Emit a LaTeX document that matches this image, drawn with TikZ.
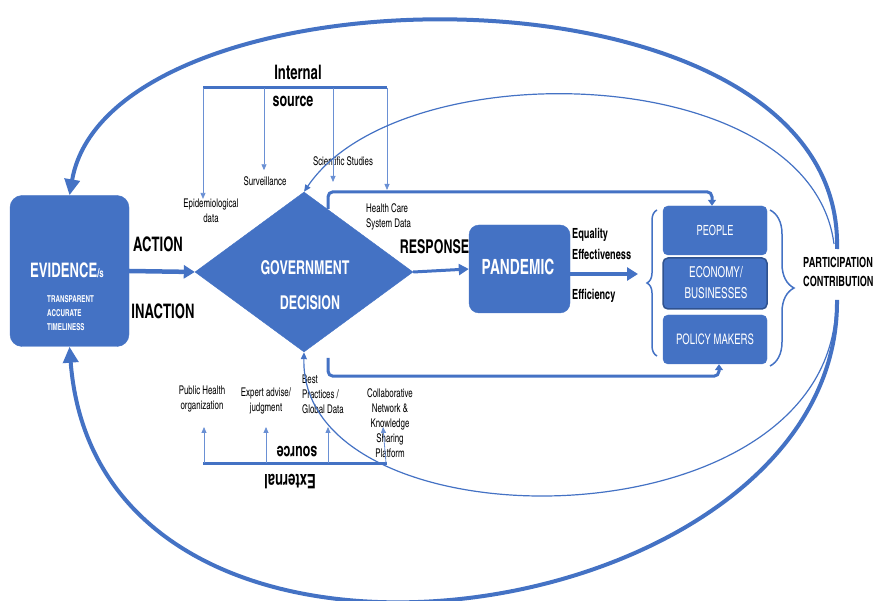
\documentclass[tikz,border=0pt]{standalone}
\usepackage{fontspec}
\setmainfont{texgyreheroscn}[Extension=.otf, UprightFont=*-regular, BoldFont=*-bold, FakeStretch=0.8]
\usetikzlibrary{arrows.meta,shapes.geometric,decorations.pathreplacing,calc}
\definecolor{ob}{HTML}{4472C4}
\definecolor{obd}{HTML}{2F528F}
\definecolor{obl}{HTML}{6A90D4}
\newcommand{\fsz}[2]{\fontsize{#1}{#2}\selectfont}
\begin{document}
\begin{tikzpicture}[x=1pt,y=-1pt,
  box/.style={draw=ob, fill=ob, inner sep=0pt},
  wtxt/.style={text=white, inner sep=0pt},
  lbl/.style={font=\fsz{12}{15}, inner sep=0pt, align=center},
  bigarc/.style={draw=ob, line width=4pt, -{Triangle[length=16pt,width=15pt]}},
  thinarc/.style={draw=ob, line width=1.2pt, -{Triangle[length=7pt,width=6pt]}},
  conn/.style={draw=ob, line width=3pt, rounded corners=5pt, -{Triangle[length=6pt,width=8pt]}},
  srcbar/.style={draw=ob, line width=3pt},
  feed/.style={draw=obl, line width=0.8pt, -{Triangle[length=6pt,width=5pt]}},
  brc/.style={draw=ob, line width=1.5pt, decorate},
]
\useasboundingbox (0,0) rectangle (873,601);
\clip (0,0) rectangle (873,601);

% main nodes
\node[box, rounded corners=12pt, minimum width=119pt, minimum height=151pt] (evid) at (69.5,271) {};
\node[diamond, fill=ob, draw=ob, minimum width=218pt, minimum height=160pt, inner sep=0pt] (gov) at (304,272) {};
\node[box, rounded corners=10pt, minimum width=101pt, minimum height=88pt] (pand) at (519.5,269) {};
\node[box, rounded corners=5pt, minimum width=104pt, minimum height=49pt] (people) at (715,230.5) {};
\node[box, draw=obd, line width=1.5pt, rounded corners=5pt, minimum width=104pt, minimum height=51pt] (econ) at (715,283.5) {};
\node[box, rounded corners=5pt, minimum width=104pt, minimum height=49pt] (policy) at (715,339.5) {};

% texts in shapes
\node[wtxt, font=\bfseries\fsz{20}{22}] (evidt) at (67,270) {EVIDENCE\fsz{12}{12}/s};
\node[wtxt, font=\bfseries\fsz{9.5}{14}, align=left, anchor=west] (evidq) at (47,313) {TRANSPARENT\\ACCURATE\\TIMELINESS};
\node[wtxt, font=\bfseries\fsz{19}{20}] (govt1) at (305,268) {GOVERNMENT};
\node[wtxt, font=\bfseries\fsz{19}{20}] (govt2) at (310,303) {DECISION};
\node[wtxt, font=\bfseries\fsz{21}{22}] (pandt) at (518,267) {PANDEMIC};
\node[wtxt, font=\fsz{14}{15}] (peoplet) at (715,230) {PEOPLE};
\node[wtxt, font=\fsz{15}{21}, align=center] (econt) at (716,283) {ECONOMY/\\BUSINESSES};
\node[wtxt, font=\fsz{14.5}{15}] (policyt) at (715,339) {POLICY MAKERS};

% black labels
\node[inner sep=0pt, font=\bfseries\fsz{20}{21}] (act) at (158,244) {ACTION};
\node[inner sep=0pt, font=\bfseries\fsz{20}{21}] (inact) at (163,311) {INACTION};
\node[inner sep=0pt, font=\bfseries\fsz{19}{20}] (resp) at (434.5,247) {RESPONSE};
\node[inner sep=0pt, font=\bfseries\fsz{14}{21}, align=left, anchor=west] (eq) at (572,243.5) {Equality\\Effectiveness};
\node[inner sep=0pt, font=\bfseries\fsz{14}{15}, anchor=west] (eff) at (572,296) {Efficiency};
\node[inner sep=0pt, font=\bfseries\fsz{14}{19}, align=left, anchor=west] (part) at (803,272) {PARTICIPATION\\CONTRIBUTION};

% internal source
\node[inner sep=0pt, font=\bfseries\fsz{20}{21}] (intl) at (298,72) {Internal};
\node[inner sep=0pt, font=\bfseries\fsz{19}{20}] (isrc) at (293,101) {source};
\coordinate (ib1) at (203,88);
\coordinate (ib2) at (264,88);
\coordinate (ib3) at (333,88);
\coordinate (ib4) at (387,88);
\draw[srcbar] (ib1) -- (ib4);
\node[lbl] (epid) at (211,211) {Epidemiological\\data};
\node[lbl] (surv) at (265,181) {Surveillance};
\node[lbl] (sci) at (343,161) {Scientific Studies};
\node[lbl, align=left, anchor=west] (hcs) at (366,216.5) {Health Care\\System Data};
\coordinate (ie3) at (333,182);
\coordinate (ie4) at (387,190);
\draw[feed] (ib1) -- (ib1 |- epid.north);
\draw[feed, shorten >=6pt] (ib2) -- (ib2 |- surv.north);
\draw[feed] (ib3) -- (ie3);
\draw[feed] (ib4) -- (ie4);

% external source
\node[inner sep=0pt, font=\bfseries\fsz{19}{20}, rotate=180] (esrc) at (297,452) {source};
\node[inner sep=0pt, font=\bfseries\fsz{20}{21}, rotate=180] (extl) at (290,482) {External};
\coordinate (eb1) at (204,463);
\coordinate (eb2) at (266,463);
\coordinate (eb3) at (328,463);
\coordinate (eb4) at (386,463);
\draw[srcbar] ($(eb1)+(-1,0)$) -- ($(eb4)+(1,0)$);
\node[lbl] (pho) at (202,399.5) {Public Health\\organization};
\node[lbl] (exp) at (266,400.5) {Expert advise/\\judgment};
\node[lbl, align=left, anchor=west] (best) at (302,394.5) {Best\\Practices /\\Global Data};
\node[lbl] (collab) at (390,423) {Collaborative\\Network \&\\Knowledge\\Sharing\\Platform};
\coordinate (ee1) at (204,427);
\coordinate (ee2) at (266,427);
\coordinate (ee3) at (328,427);
\coordinate (ee4) at (383,427);
\draw[feed] (eb1) -- (ee1);
\draw[feed] (eb2) -- (ee2);
\draw[feed] (eb3) -- (ee3);
\draw[feed] (eb4) -- (ee4);

% main flow arrows
\draw[draw=ob, line width=4.5pt, -{Triangle[length=11pt,width=13pt]}] (evid.east) -- (gov.west);
\draw[draw=ob, line width=3pt, -{Triangle[length=10pt,width=11pt]}] (gov.east) -- (pand.west);
\coordinate (lbt) at (638,274);
\draw[draw=ob, line width=4pt, -{Triangle[length=11pt,width=13pt]}] ([yshift=-5pt]pand.east) -- (lbt);

% top and bottom connectors
\coordinate (gtop) at (328,209);
\coordinate (gbot) at (328,358);
\draw[conn] (gtop) |- ([xshift=-3pt,yshift=14pt]people.north) -- ([xshift=-3pt]people.north);
\draw[conn] (gbot) |- ([xshift=4pt,yshift=-12pt]policy.south) -- ([xshift=4pt]policy.south);

% braces
\draw[brc, decoration={brace, amplitude=10pt}] (657,356) -- (657,210);
\draw[brc, decoration={brace, amplitude=24pt}] (770,210) -- (770,366);

% big loop arcs
\coordinate (rt) at (837,249);
\coordinate (rb) at (837,300);
\coordinate (rt2) at (834,244);
\coordinate (rb2) at (836,304);
\draw[bigarc] (rt) .. controls (845,-50) and (110,-40) .. (evid.north);
\draw[bigarc] (rb) .. controls (840,630) and (100,745) .. (evid.south);
\draw[thinarc] (rt2) .. controls (810,60) and (400,50) .. (gov.north);
\draw[thinarc] (rb2) .. controls (832,550) and (300,550) .. (gov.south);
\end{tikzpicture}
\end{document}
